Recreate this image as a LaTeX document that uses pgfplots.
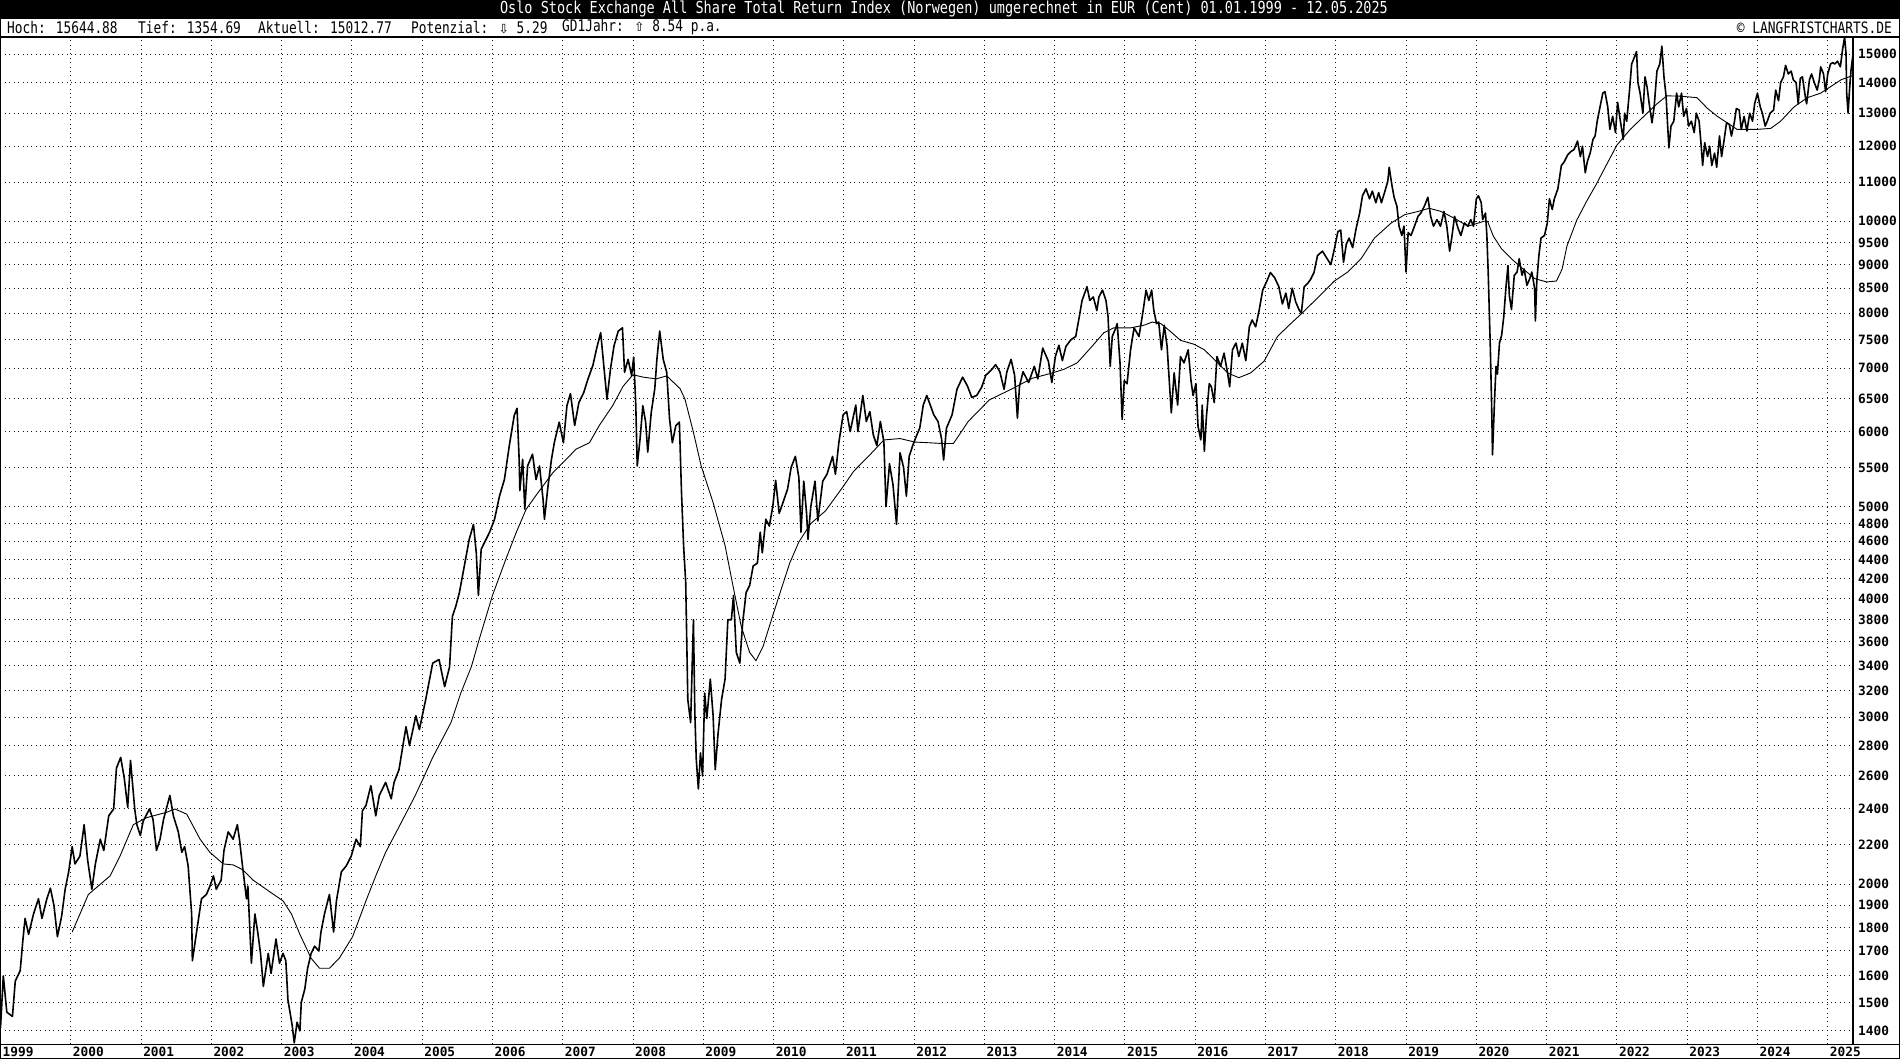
\documentclass[border=0pt]{standalone}
\usepackage{pgfplots}
\pgfplotsset{compat=1.18}
\usepackage{fontspec}
\newfontfamily\titlefont[FakeStretch=0.82]{DejaVu Sans Mono}
\newfontfamily\infofont[FakeStretch=0.8]{DejaVu Sans Mono}
\newfontfamily\lblfont{DejaVu Sans Mono}
\newfontfamily\symfont{DejaVu Sans}
\begin{document}
\begin{tikzpicture}
\useasboundingbox (0pt,0pt) rectangle (1900pt,1060pt);
\fill[white] (0pt,0pt) rectangle (1900pt,1060pt);
\fill[black] (0pt,1042pt) rectangle (1900pt,1060pt);
\node[white, inner sep=0pt, font=\titlefont\fontsize{16.5}{16.5}\selectfont] at (944pt,1051pt) {Oslo Stock Exchange All Share Total Return Index (Norwegen) umgerechnet in EUR (Cent) 01.01.1999 - 12.05.2025};
\begin{scope}[every node/.style={anchor=west, inner sep=0pt, font=\infofont\fontsize{16}{16}\selectfont}]
\node at (7pt,1032.5pt) {Hoch: 15644.88};
\node at (138pt,1032.5pt) {Tief: 1354.69};
\node at (258pt,1032.5pt) {Aktuell: 15012.77};
\node at (411pt,1032.5pt) {Potenzial: {\symfont\fontsize{12.5}{12.5}\selectfont ⇩} 5.29};
\node at (562pt,1032.5pt) {GD1Jahr: {\symfont\fontsize{12.5}{12.5}\selectfont ⇧} 8.54 p.a.};
\end{scope}
\node[anchor=east, inner sep=0pt, font=\titlefont\fontsize{15.7}{15.7}\selectfont] at (1892pt,1032.5pt) {© LANGFRISTCHARTS.DE};
\draw[line width=1.2pt] (0.6pt,1.5pt) rectangle (1899.4pt,1042pt);
\draw[line width=1.2pt] (0pt,1023pt) -- (1900pt,1023pt);
\draw[line width=1.2pt] (0pt,15.5pt) -- (1900pt,15.5pt);
\begin{axis}[
  at={(0.5pt,15.5pt)}, anchor=south west, scale only axis,
  width=1852.5pt, height=1007.5pt,
  ymode=log,
  xmin=1999, xmax=2025.36, ymin=1354.69, ymax=15644.88,
  axis line style={line width=1.2pt},
  major tick length=0pt, yminorticks=false, xminorticks=false,
  xmajorgrids, ymajorgrids,
  major grid style={line width=1pt, dash pattern=on 1pt off 3.4pt, black!90},
  xtick={1999,2000,2001,2002,2003,2004,2005,2006,2007,2008,2009,2010,2011,2012,2013,2014,2015,2016,2017,2018,2019,2020,2021,2022,2023,2024,2025},
  xticklabels={1999,2000,2001,2002,2003,2004,2005,2006,2007,2008,2009,2010,2011,2012,2013,2014,2015,2016,2017,2018,2019,2020,2021,2022,2023,2024,2025},
  xticklabel style={anchor=west, inner sep=0pt, xshift=2pt, yshift=-7.5pt, font=\lblfont\bfseries\fontsize{12.8}{12.8}\selectfont},
  ytick={1400,1500,1600,1700,1800,1900,2000,2200,2400,2600,2800,3000,3200,3400,3600,3800,4000,4200,4400,4600,4800,5000,5500,6000,6500,7000,7500,8000,8500,9000,9500,10000,11000,12000,13000,14000,15000},
  yticklabels={1400,1500,1600,1700,1800,1900,2000,2200,2400,2600,2800,3000,3200,3400,3600,3800,4000,4200,4400,4600,4800,5000,5500,6000,6500,7000,7500,8000,8500,9000,9500,10000,11000,12000,13000,14000,15000},
  yticklabel pos=right,
  yticklabel style={anchor=west, inner sep=0pt, xshift=5pt, font=\lblfont\bfseries\fontsize{12.8}{12.8}\selectfont},
]
\addplot[black, line width=1.6pt, line join=round] table {
1999.00 1410
1999.04 1600
1999.09 1465
1999.17 1450
1999.21 1580
1999.28 1620
1999.32 1750
1999.35 1840
1999.40 1770
1999.47 1860
1999.54 1930
1999.59 1840
1999.66 1930
1999.71 1980
1999.76 1900
1999.81 1760
1999.87 1850
1999.92 1975
1999.97 2060
2000.02 2190
2000.06 2100
2000.13 2140
2000.19 2310
2000.24 2120
2000.30 1975
2000.35 2100
2000.42 2230
2000.47 2170
2000.54 2360
2000.61 2400
2000.65 2650
2000.71 2720
2000.76 2590
2000.81 2410
2000.85 2700
2000.91 2400
2000.94 2310
2000.99 2250
2001.03 2330
2001.12 2400
2001.17 2340
2001.22 2170
2001.27 2230
2001.32 2340
2001.41 2480
2001.46 2360
2001.53 2270
2001.58 2160
2001.62 2190
2001.67 2090
2001.72 1860
2001.73 1660
2001.79 1780
2001.86 1930
2001.93 1950
2001.98 1990
2002.03 2040
2002.07 1975
2002.14 2020
2002.18 2170
2002.24 2270
2002.31 2230
2002.37 2310
2002.40 2230
2002.45 2070
2002.50 1930
2002.52 1990
2002.57 1650
2002.62 1860
2002.66 1780
2002.70 1690
2002.74 1560
2002.81 1690
2002.85 1610
2002.92 1750
2002.97 1650
2003.02 1690
2003.06 1660
2003.09 1510
2003.15 1420
2003.18 1360
2003.22 1430
2003.26 1400
2003.28 1500
2003.33 1550
2003.37 1630
2003.42 1690
2003.47 1720
2003.53 1700
2003.56 1780
2003.61 1860
2003.68 1950
2003.74 1780
2003.78 1920
2003.85 2060
2003.92 2090
2003.99 2140
2004.06 2230
2004.12 2190
2004.15 2390
2004.20 2420
2004.27 2540
2004.34 2360
2004.39 2480
2004.48 2560
2004.56 2460
2004.60 2560
2004.67 2640
2004.77 2930
2004.82 2800
2004.91 3010
2004.96 2910
2005.05 3130
2005.15 3420
2005.24 3450
2005.32 3230
2005.39 3390
2005.43 3830
2005.48 3930
2005.53 4060
2005.60 4330
2005.67 4620
2005.73 4790
2005.77 4470
2005.80 4030
2005.84 4510
2005.91 4620
2005.96 4700
2006.03 4850
2006.10 5130
2006.17 5340
2006.24 5800
2006.31 6240
2006.35 6350
2006.38 5610
2006.39 5200
2006.43 5610
2006.46 4970
2006.50 5520
2006.57 5680
2006.62 5340
2006.67 5520
2006.72 5090
2006.74 4850
2006.79 5250
2006.84 5610
2006.88 5840
2006.95 6140
2007.01 5840
2007.06 6390
2007.11 6580
2007.17 6090
2007.23 6440
2007.30 6600
2007.36 6820
2007.43 7050
2007.48 7330
2007.54 7630
2007.58 7100
2007.63 6490
2007.68 6990
2007.73 7390
2007.79 7660
2007.85 7720
2007.88 6930
2007.93 7150
2007.98 6880
2008.01 7190
2008.04 6390
2008.06 5520
2008.10 5890
2008.14 6390
2008.18 6140
2008.21 5710
2008.26 6290
2008.31 6660
2008.34 7150
2008.38 7660
2008.43 7150
2008.48 6930
2008.52 6190
2008.56 5840
2008.61 6090
2008.66 6140
2008.69 5180
2008.72 4550
2008.75 4160
2008.78 3130
2008.82 2960
2008.86 3800
2008.88 3030
2008.90 2710
2008.93 2520
2008.96 2750
2008.99 2600
2009.02 3180
2009.05 2990
2009.10 3290
2009.14 3010
2009.17 2640
2009.21 2880
2009.26 3130
2009.31 3290
2009.35 3800
2009.40 3800
2009.43 4030
2009.47 3510
2009.52 3420
2009.56 3770
2009.61 4060
2009.66 4130
2009.71 4330
2009.77 4360
2009.81 4700
2009.84 4470
2009.89 4850
2009.94 4770
2009.99 5010
2010.03 5330
2010.08 4920
2010.15 5090
2010.20 5220
2010.25 5500
2010.31 5650
2010.36 5370
2010.39 4700
2010.43 5320
2010.47 4920
2010.49 4620
2010.53 5000
2010.59 5320
2010.63 4830
2010.70 5320
2010.76 5410
2010.84 5650
2010.88 5410
2010.93 5850
2010.99 6250
2011.04 6300
2011.09 6000
2011.17 6400
2011.20 6000
2011.27 6550
2011.32 6150
2011.37 6300
2011.42 5950
2011.47 5800
2011.52 6150
2011.57 5850
2011.60 5000
2011.65 5550
2011.70 5270
2011.75 4790
2011.80 5700
2011.85 5500
2011.89 5130
2011.93 5650
2011.98 5800
2012.03 5930
2012.08 6050
2012.13 6400
2012.18 6550
2012.23 6400
2012.28 6250
2012.34 6150
2012.39 5900
2012.42 5600
2012.46 6050
2012.54 6250
2012.61 6650
2012.69 6850
2012.76 6700
2012.82 6520
2012.89 6550
2012.96 6680
2013.02 6880
2013.10 6970
2013.16 7060
2013.22 6940
2013.28 6650
2013.32 6940
2013.38 7150
2013.43 6880
2013.47 6200
2013.50 6700
2013.55 6940
2013.63 6760
2013.71 7030
2013.76 6820
2013.83 7350
2013.91 7120
2013.96 6760
2014.01 7200
2014.06 7400
2014.11 7130
2014.16 7380
2014.23 7500
2014.30 7560
2014.35 7930
2014.39 8250
2014.46 8530
2014.50 8250
2014.55 8320
2014.60 8050
2014.63 8320
2014.68 8460
2014.73 8250
2014.76 7930
2014.79 7030
2014.82 7560
2014.87 7720
2014.89 7800
2014.93 7090
2014.96 6180
2014.99 6790
2015.03 6740
2015.08 7320
2015.13 7720
2015.20 7560
2015.26 8060
2015.30 8460
2015.34 8250
2015.38 8460
2015.41 8060
2015.45 7800
2015.48 7830
2015.52 7320
2015.56 7770
2015.60 7380
2015.64 6620
2015.66 6280
2015.70 6920
2015.75 6400
2015.79 7200
2015.84 7090
2015.90 7320
2015.94 6790
2015.97 6550
2016.01 6740
2016.04 6080
2016.08 5880
2016.10 6400
2016.13 5720
2016.16 6230
2016.20 6740
2016.23 6690
2016.27 6440
2016.31 7200
2016.36 7030
2016.41 7260
2016.46 6920
2016.49 6690
2016.53 7320
2016.58 7440
2016.62 7200
2016.67 7440
2016.72 7130
2016.77 7740
2016.81 7870
2016.86 7740
2016.91 8060
2016.96 8460
2017.02 8650
2017.07 8830
2017.13 8720
2017.19 8530
2017.24 8180
2017.29 8400
2017.33 8090
2017.38 8500
2017.43 8220
2017.48 8060
2017.51 8000
2017.55 8530
2017.60 8600
2017.64 8680
2017.69 8830
2017.74 9200
2017.81 9300
2017.93 9000
2017.98 9350
2018.03 9750
2018.07 9790
2018.11 9050
2018.15 9460
2018.19 9600
2018.24 9380
2018.29 9830
2018.34 10200
2018.38 10640
2018.43 10820
2018.48 10560
2018.52 10760
2018.57 10460
2018.61 10720
2018.65 10460
2018.70 10760
2018.74 11020
2018.76 11400
2018.80 10900
2018.83 10600
2018.87 10370
2018.90 9880
2018.94 9660
2018.97 9880
2019.00 8840
2019.03 9730
2019.07 9660
2019.12 9880
2019.17 10120
2019.21 10200
2019.26 10370
2019.31 10600
2019.35 10120
2019.39 9880
2019.44 10040
2019.49 9880
2019.54 10240
2019.58 9880
2019.62 9300
2019.65 9600
2019.69 10120
2019.74 9830
2019.78 9660
2019.83 9960
2019.88 9880
2019.92 10040
2019.96 9880
2020.00 10560
2020.03 10640
2020.07 10460
2020.09 10040
2020.13 10200
2020.15 9660
2020.17 8770
2020.20 7320
2020.22 6280
2020.23 5670
2020.26 6500
2020.28 7030
2020.30 6900
2020.33 7450
2020.36 7580
2020.39 7930
2020.42 8490
2020.45 8980
2020.47 8350
2020.50 8070
2020.54 8770
2020.58 8840
2020.61 9130
2020.65 8770
2020.68 8910
2020.72 8560
2020.76 8700
2020.79 8840
2020.83 8490
2020.84 7850
2020.86 8630
2020.89 9200
2020.92 9600
2020.97 9660
2021.01 9960
2021.04 10560
2021.08 10290
2021.11 10560
2021.16 10820
2021.21 11450
2021.25 11550
2021.30 11750
2021.35 11850
2021.39 11900
2021.44 12150
2021.48 11700
2021.51 12000
2021.55 11250
2021.58 11560
2021.62 11800
2021.66 12200
2021.69 12300
2021.72 12750
2021.76 13200
2021.80 13650
2021.83 13700
2021.87 13200
2021.90 12500
2021.94 12900
2021.98 12400
2022.01 13350
2022.05 12750
2022.09 12200
2022.11 13000
2022.14 12750
2022.18 13750
2022.21 14650
2022.25 14900
2022.28 15100
2022.30 14000
2022.33 13650
2022.37 13000
2022.40 14200
2022.43 13850
2022.46 13300
2022.50 12700
2022.53 13200
2022.57 14400
2022.61 14650
2022.64 15300
2022.67 14200
2022.70 13550
2022.72 12700
2022.74 11950
2022.77 12600
2022.81 12750
2022.85 13650
2022.88 13200
2022.92 13650
2022.95 12900
2022.99 13150
2023.02 12600
2023.06 12750
2023.10 12400
2023.13 13000
2023.17 12750
2023.20 12000
2023.22 11450
2023.25 12100
2023.29 11700
2023.32 12000
2023.35 11450
2023.39 11800
2023.42 11400
2023.46 12300
2023.49 11700
2023.52 12100
2023.56 12700
2023.60 12650
2023.63 12300
2023.67 12700
2023.70 13150
2023.74 13100
2023.77 12500
2023.81 12900
2023.85 12450
2023.89 13000
2023.93 12750
2023.96 13300
2024.00 13650
2024.04 13200
2024.07 13000
2024.11 12600
2024.14 12750
2024.18 13000
2024.23 13100
2024.26 13750
2024.30 13400
2024.33 14000
2024.37 14200
2024.40 14600
2024.44 14300
2024.48 14400
2024.51 14100
2024.55 14000
2024.58 13300
2024.61 14150
2024.64 14200
2024.68 13550
2024.70 13300
2024.74 14100
2024.77 14300
2024.81 14000
2024.85 13750
2024.88 14100
2024.90 14550
2024.94 14300
2024.97 13700
2025.00 14300
2025.04 14650
2025.07 14700
2025.10 14650
2025.14 14750
2025.18 14550
2025.21 15150
2025.24 15640
2025.26 15050
2025.27 13650
2025.29 13000
2025.31 13750
2025.33 14400
2025.36 15010
};
\addplot[black, line width=0.9pt, line join=round] table {
2000.02 1780
2000.25 1950
2000.56 2040
2000.70 2140
2000.89 2310
2001.08 2350
2001.36 2380
2001.48 2400
2001.65 2370
2001.84 2230
2001.98 2160
2002.17 2100
2002.31 2095
2002.45 2070
2002.59 2020
2002.78 1975
2003.02 1920
2003.14 1860
2003.26 1770
2003.42 1670
2003.54 1630
2003.68 1630
2003.82 1670
2004.01 1760
2004.20 1920
2004.34 2040
2004.48 2160
2004.66 2290
2004.89 2470
2005.01 2580
2005.15 2720
2005.41 2960
2005.55 3180
2005.70 3390
2005.81 3620
2006.00 4030
2006.19 4400
2006.34 4700
2006.48 4970
2006.67 5200
2006.86 5430
2007.05 5610
2007.19 5750
2007.38 5840
2007.52 6090
2007.71 6390
2007.86 6700
2008.00 6890
2008.14 6850
2008.33 6820
2008.48 6870
2008.67 6660
2008.74 6490
2008.86 5990
2008.97 5520
2009.14 5050
2009.31 4550
2009.43 4100
2009.54 3740
2009.66 3510
2009.75 3440
2009.85 3560
2009.97 3800
2010.08 4030
2010.23 4360
2010.36 4590
2010.53 4800
2010.74 4950
2010.99 5250
2011.14 5450
2011.35 5650
2011.57 5880
2011.80 5900
2012.01 5850
2012.21 5840
2012.39 5830
2012.56 5830
2012.77 6150
2013.07 6480
2013.38 6650
2013.68 6830
2013.94 6910
2014.13 6980
2014.32 7090
2014.51 7350
2014.70 7630
2014.84 7720
2015.08 7720
2015.27 7770
2015.39 7830
2015.51 7800
2015.65 7650
2015.79 7490
2015.98 7420
2016.13 7320
2016.32 7090
2016.46 6920
2016.62 6840
2016.79 6920
2016.98 7120
2017.17 7560
2017.36 7800
2017.52 8000
2017.74 8300
2017.98 8650
2018.17 8840
2018.36 9130
2018.55 9600
2018.79 9960
2018.98 10160
2019.17 10240
2019.33 10320
2019.50 10240
2019.69 10070
2019.88 9880
2020.11 10000
2020.16 10000
2020.24 9650
2020.36 9350
2020.52 9100
2020.67 8900
2020.83 8700
2021.00 8630
2021.14 8650
2021.22 8900
2021.29 9420
2021.43 10030
2021.57 10500
2021.71 10950
2021.86 11500
2022.00 12030
2022.19 12500
2022.43 13000
2022.57 13300
2022.71 13560
2022.90 13550
2023.14 13500
2023.29 13150
2023.43 12900
2023.57 12700
2023.71 12500
2024.00 12500
2024.19 12530
2024.33 12750
2024.52 13200
2024.71 13500
2024.90 13650
2025.05 13880
2025.19 14100
2025.36 14250
};
\end{axis}
\end{tikzpicture}
\end{document}
